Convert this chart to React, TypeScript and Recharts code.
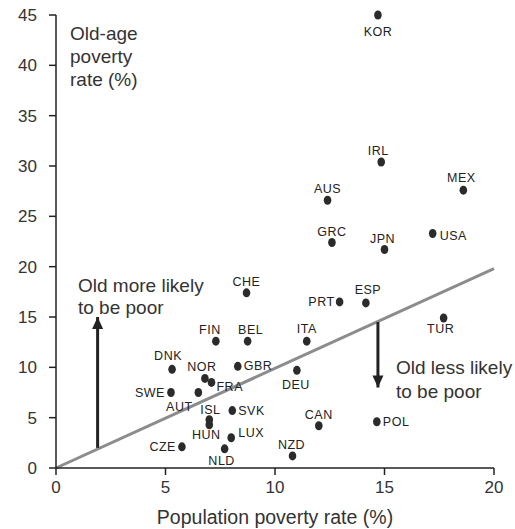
import React from 'react';
import { ScatterChart, Scatter, XAxis, YAxis, ReferenceLine, Label } from 'recharts';

document.body.style.margin = '0';

const COUNTRIES = ['KOR', 'IRL', 'MEX', 'AUS', 'GRC', 'JPN', 'USA', 'CHE', 'FIN', 'BEL', 'DNK', 'NOR', 'FRA', 'GBR', 'SWE', 'AUT', 'ISL', 'HUN', 'SVK', 'LUX', 'NLD', 'CZE', 'PRT', 'ESP', 'TUR', 'ITA', 'DEU', 'CAN', 'POL', 'NZD'];
const POP_RATE = [14.7, 14.85, 18.6, 12.4, 12.6, 15.0, 17.2, 8.7, 7.3, 8.75, 5.3, 6.8, 7.1, 8.3, 5.25, 6.5, 7.0, 7.0, 8.05, 8.0, 7.7, 5.75, 12.95, 14.15, 17.7, 11.45, 11.0, 12.0, 14.65, 10.8];
const OLD_RATE = [45.0, 30.4, 27.6, 26.6, 22.4, 21.7, 23.3, 17.4, 12.6, 12.6, 9.8, 8.9, 8.5, 10.1, 7.5, 7.5, 4.8, 4.3, 5.7, 3.0, 1.9, 2.1, 16.5, 16.4, 14.9, 12.6, 9.7, 4.2, 4.6, 1.2];

const X_TICKS = [0, 5, 10, 15, 20];
const Y_TICKS = [0, 5, 10, 15, 20, 25, 30, 35, 40, 45];

const TREND = [{ x: 0, y: 0 }, { x: 20, y: 19.8 }];
const ARROW_UP = [{ x: 1.9, y: 2.0 }, { x: 1.9, y: 15.0 }];
const ARROW_DOWN = [{ x: 14.7, y: 14.5 }, { x: 14.7, y: 8.0 }];

// label placement around each dot: [dx, dy, anchor]
const LABEL_POS: Record<string, [number, number, string]> = {
  KOR: [0, 17, 'middle'],
  IRL: [-3, -11, 'middle'],
  MEX: [-2, -12, 'middle'],
  AUS: [0, -11, 'middle'],
  GRC: [0, -11, 'middle'],
  JPN: [-2, -11, 'middle'],
  USA: [7, 3, 'start'],
  CHE: [0, -11, 'middle'],
  FIN: [-6, -11, 'middle'],
  BEL: [3, -11, 'middle'],
  DNK: [-4, -13, 'middle'],
  NOR: [-3, -11, 'middle'],
  FRA: [5, 5, 'start'],
  GBR: [6, 0, 'start'],
  SWE: [-6, 0, 'end'],
  AUT: [-19, 14, 'middle'],
  ISL: [1, -10, 'middle'],
  HUN: [-3, 10, 'middle'],
  SVK: [6, 0, 'start'],
  LUX: [7, -5, 'start'],
  NLD: [-3, 12, 'middle'],
  CZE: [-6, 0, 'end'],
  PRT: [-5, 0, 'end'],
  ESP: [2, -13, 'middle'],
  TUR: [-3, 11, 'middle'],
  ITA: [0, -12, 'middle'],
  DEU: [-1, 15, 'middle'],
  CAN: [0, -11, 'middle'],
  POL: [6, 0, 'start'],
  NZD: [-1, -11, 'middle'],
};

const points = COUNTRIES.map((name, i) => ({ name, x: POP_RATE[i], y: OLD_RATE[i] }));

const TEXT = '#333';
const FONT = '"Liberation Sans", Arial, sans-serif';

function CountryDot(props: any) {
  const { cx, cy, payload } = props;
  const [dx, dy, anchor] = LABEL_POS[payload.name] || [0, -10, 'middle'];
  return (
    <g>
      <ellipse cx={cx} cy={cy} rx={3.8} ry={4.5} fill="#2b2b2b" />
      <text
        x={cx + dx}
        y={cy + dy}
        textAnchor={anchor as any}
        dominantBaseline="central"
        fontSize={12.5}
        letterSpacing={0.5}
        fontFamily={FONT}
        fill="#222"
      >
        {payload.name}
      </text>
    </g>
  );
}

const head = (dir: number) => (props: any) => {
  const { cx, cy, index } = props;
  if (index !== 1) return <g />;
  const h = 12;
  const w = 5.5;
  return <path d={`M${cx},${cy} L${cx - w},${cy - dir * h} L${cx + w},${cy - dir * h} Z`} fill="#222" />;
};

export default function App() {
  return (
    <div style={{ position: 'relative', width: 515, height: 529, background: '#fff' }}>
      <ScatterChart width={515} height={529} margin={{ top: 15, right: 21, bottom: 0, left: 0 }}>
        <XAxis
          type="number"
          dataKey="x"
          domain={[0, 20]}
          ticks={X_TICKS}
          height={61}
          tickSize={7}
          tickMargin={6}
          axisLine={{ stroke: '#222', strokeWidth: 1.5 }}
          tickLine={{ stroke: '#222', strokeWidth: 1.5 }}
          tick={{ fill: TEXT, fontSize: 17, fontFamily: FONT }}
        >
          <Label
            value="Population poverty rate (%)"
            position="insideBottom"
            offset={5}
            style={{ fill: TEXT, fontSize: 19.5, fontFamily: FONT }}
          />
        </XAxis>
        <YAxis
          type="number"
          dataKey="y"
          domain={[0, 45]}
          ticks={Y_TICKS}
          width={56}
          tickSize={7}
          tickMargin={12}
          axisLine={{ stroke: '#222', strokeWidth: 1.5 }}
          tickLine={{ stroke: '#222', strokeWidth: 1.5 }}
          tick={{ fill: TEXT, fontSize: 17, fontFamily: FONT }}
        />
        <ReferenceLine segment={TREND} stroke="#8c8c8c" strokeWidth={3} ifOverflow="visible" />
        <Scatter
          data={ARROW_UP}
          line={{ stroke: '#222', strokeWidth: 3 }}
          shape={head(-1)}
          isAnimationActive={false}
        />
        <Scatter
          data={ARROW_DOWN}
          line={{ stroke: '#222', strokeWidth: 3 }}
          shape={head(1)}
          isAnimationActive={false}
        />
        <Scatter data={points} shape={<CountryDot />} isAnimationActive={false} />
      </ScatterChart>
      <svg
        width={515}
        height={529}
        style={{ position: 'absolute', left: 0, top: 0, pointerEvents: 'none' }}
        fontFamily={FONT}
        fontSize={19}
        fill={TEXT}
      >
        <text x={70} y={40}>Old-age</text>
        <text x={70} y={63}>poverty</text>
        <text x={70} y={86}>rate (%)</text>
        <text x={78} y={292}>Old more likely</text>
        <text x={78} y={314}>to be poor</text>
        <text x={396} y={374}>Old less likely</text>
        <text x={396} y={398}>to be poor</text>
      </svg>
    </div>
  );
}
